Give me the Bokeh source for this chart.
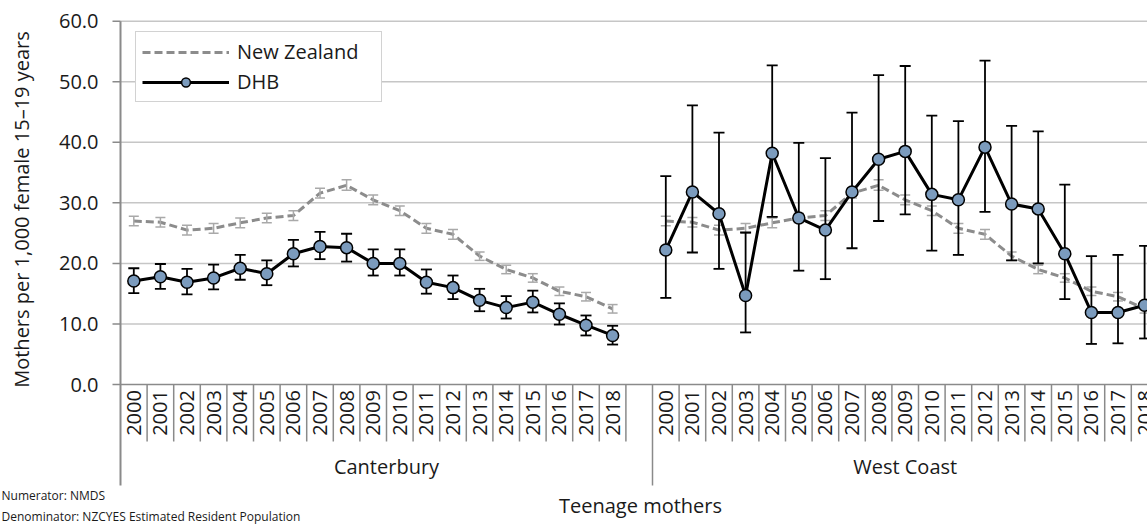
import math
from bokeh.plotting import figure
from bokeh.models import ColumnDataSource, Legend, LegendItem
from bokeh.core.properties import value
from bokeh.embed import file_html
from bokeh.resources import INLINE

# ---------------- data ----------------
GROUPS = ["Canterbury", "West Coast"]
GROUP_SLOTS = [20, 19]          # Canterbury has a trailing empty slot
YEARS = ["2000", "2001", "2002", "2003", "2004", "2005", "2006", "2007", "2008", "2009",
         "2010", "2011", "2012", "2013", "2014", "2015", "2016", "2017", "2018"]

NZ_RATE = [27.0, 26.8, 25.5, 25.8, 26.7, 27.5, 27.9, 31.6, 32.9, 30.5,
           28.7, 25.8, 24.8, 21.2, 19.0, 17.6, 15.4, 14.5, 12.5]
NZ_LOWER = [26.2, 26.0, 24.7, 25.0, 25.9, 26.7, 27.1, 30.8, 32.1, 29.7,
            27.9, 25.0, 24.0, 20.5, 18.3, 16.9, 14.7, 13.8, 11.8]
NZ_UPPER = [27.8, 27.6, 26.3, 26.6, 27.5, 28.3, 28.7, 32.4, 33.8, 31.3,
            29.5, 26.6, 25.6, 21.9, 19.7, 18.3, 16.1, 15.2, 13.2]

CANT_RATE = [17.1, 17.8, 16.9, 17.6, 19.2, 18.3, 21.6, 22.8, 22.6, 20.0,
             20.0, 16.9, 16.0, 13.9, 12.7, 13.6, 11.6, 9.8, 8.1]
CANT_LOWER = [15.1, 15.8, 14.9, 15.7, 17.3, 16.4, 19.5, 20.7, 20.3, 18.0,
              18.0, 15.0, 14.1, 12.1, 10.9, 11.9, 9.9, 8.1, 6.6]
CANT_UPPER = [19.2, 19.9, 19.1, 19.8, 21.4, 20.5, 23.9, 25.2, 24.9, 22.3,
              22.3, 19.0, 18.0, 15.8, 14.6, 15.5, 13.4, 11.4, 9.7]

WC_RATE = [22.2, 31.8, 28.2, 14.7, 38.2, 27.5, 25.5, 31.8, 37.2, 38.5,
           31.4, 30.5, 39.2, 29.8, 29.0, 21.6, 11.9, 11.9, 13.1]
WC_LOWER = [14.3, 21.8, 19.1, 8.6, 27.7, 18.8, 17.4, 22.5, 27.0, 28.1,
            22.1, 21.4, 28.5, 20.5, 20.0, 14.1, 6.7, 6.8, 7.6]
WC_UPPER = [34.4, 46.1, 41.6, 25.1, 52.7, 39.9, 37.4, 44.9, 51.1, 52.6,
            44.4, 43.5, 53.5, 42.7, 41.8, 33.0, 21.2, 21.4, 22.9]

Y_TICKS = [0, 10, 20, 30, 40, 50, 60]
Y_TICK_LABELS = ["0.0", "10.0", "20.0", "30.0", "40.0", "50.0", "60.0"]
Y_LABEL = "Mothers per 1,000 female 15\u201319 years"
X_TITLE = "Teenage mothers"
NOTES = ["Numerator: NMDS", "Denominator: NZCYES Estimated Resident Population"]
LEGEND_LABELS = ["New Zealand", "DHB"]

# ---------------- layout / styles ----------------
FONT = value("Open Sans")
TXT = "#1a1a1a"
GRID = "#c6c6c6"
AXIS = "#8a8a8a"
NZ_COLOR = "#8c8c8c"
NZ_ERR = "#a9a9a9"
DHB_FILL = "#7b9bbd"

W, H = 1147, 530
SLOT_PX = 26.6              # pixel width of one category slot
UNIT_PX = 6.055             # pixels per rate unit
PLOT_LEFT = 120             # px where category slot 0 starts
ZERO_Y = 384                # px of rate 0


def dx(px):                 # px (x) -> data x
    return (px - PLOT_LEFT) / SLOT_PX


def dy(py):                 # px (y) -> data y
    return (ZERO_Y - py) / UNIT_PX


p = figure(width=W, height=H, x_range=(dx(0), dx(W)), y_range=(dy(H), dy(0)),
           output_backend="svg", toolbar_location=None,
           min_border_left=0, min_border_right=0, min_border_top=0, min_border_bottom=0)
p.outline_line_color = None
p.axis.visible = False
p.grid.visible = False

Y_MAX = Y_TICKS[-1]
X_END = dx(W)
SEP_SHORT = dy(441)
SEP_LONG = dy(485)

# gridlines and value axis
p.segment(x0=[0] * (len(Y_TICKS) - 1), y0=Y_TICKS[1:], x1=[X_END] * (len(Y_TICKS) - 1),
          y1=Y_TICKS[1:], line_color=GRID, line_width=1.5)
p.segment(x0=[0], y0=[0], x1=[X_END], y1=[0], line_color=AXIS, line_width=1.5)
p.segment(x0=[0], y0=[Y_MAX], x1=[0], y1=[SEP_LONG], line_color=AXIS, line_width=2)
p.segment(x0=[dx(PLOT_LEFT - 8)] * len(Y_TICKS), y0=Y_TICKS, x1=[0] * len(Y_TICKS), y1=Y_TICKS,
          line_color=AXIS, line_width=1.5)
p.text(x=[dx(98)] * len(Y_TICKS), y=Y_TICKS, text=Y_TICK_LABELS, text_align="right",
       text_baseline="middle", text_font=FONT, text_font_size="20px", text_color=TXT)
p.text(x=[dx(21)], y=[dy(209)], text=[Y_LABEL], angle=math.pi / 2, text_align="center",
       text_baseline="middle", text_font=FONT, text_font_size="20px", text_color=TXT)

# category axis
offsets = []
off = 0
for n in GROUP_SLOTS:
    offsets.append(off)
    off += n

lab_x, lab_t = [], []
sep_x, sep_y1 = [], []
for g, o in enumerate(offsets):
    for i, yr in enumerate(YEARS):
        lab_x.append(o + i + 0.5)
        lab_t.append(yr)
        if o + i + 1 < o + GROUP_SLOTS[g]:
            sep_x.append(o + i + 1)
            sep_y1.append(SEP_SHORT)
    sep_x.append(o + GROUP_SLOTS[g])
    sep_y1.append(SEP_LONG)

p.segment(x0=sep_x, y0=[0] * len(sep_x), x1=sep_x, y1=sep_y1, line_color=AXIS, line_width=1.5)
p.text(x=lab_x, y=[SEP_SHORT / 2] * len(lab_x), text=lab_t, angle=math.pi / 2,
       text_align="center", text_baseline="middle", text_font=FONT,
       text_font_size="20px", text_color=TXT)
p.text(x=[o + n / 2 for o, n in zip(offsets, GROUP_SLOTS)], y=[dy(466)] * len(GROUPS),
       text=GROUPS, text_align="center", text_baseline="middle", text_font=FONT,
       text_font_size="20px", text_color=TXT)
p.text(x=[dx(640)], y=[dy(505)], text=[X_TITLE], text_align="center", text_baseline="middle",
       text_font=FONT, text_font_size="20px", text_color=TXT)
p.text(x=[dx(1), dx(1)], y=[dy(495), dy(516)], text=NOTES, text_align="left",
       text_baseline="middle", text_font=FONT, text_font_size="12px", text_color=TXT)

# ---------------- series ----------------
series = [
    (CANT_RATE, CANT_LOWER, CANT_UPPER),
    (WC_RATE, WC_LOWER, WC_UPPER),
]

nz_sources, dhb_sources = [], []
for g, o in enumerate(offsets):
    xs = [o + i + 0.5 for i in range(len(YEARS))]
    nz_sources.append(ColumnDataSource(dict(x=xs, y=NZ_RATE, lo=NZ_LOWER, hi=NZ_UPPER)))
    r, lo, hi = series[g]
    dhb_sources.append(ColumnDataSource(dict(x=xs, y=r, lo=lo, hi=hi)))

nz_lines = []
for src in nz_sources:
    nz_lines.append(p.line("x", "y", source=src, line_color=NZ_COLOR, line_width=3,
                           line_dash="8 4"))
for src in nz_sources:
    p.segment(x0="x", y0="lo", x1="x", y1="hi", source=src, line_color=NZ_ERR, line_width=1.5)
    p.scatter("x", "lo", source=src, marker="dash", size=10, line_color=NZ_ERR, line_width=1.5)
    p.scatter("x", "hi", source=src, marker="dash", size=10, line_color=NZ_ERR, line_width=1.5)
for src in dhb_sources:
    p.segment(x0="x", y0="lo", x1="x", y1="hi", source=src, line_color="black", line_width=1.8)
    p.scatter("x", "lo", source=src, marker="dash", size=11, line_color="black", line_width=1.8)
    p.scatter("x", "hi", source=src, marker="dash", size=11, line_color="black", line_width=1.8)
dhb_lines, dhb_marks = [], []
for src in dhb_sources:
    dhb_lines.append(p.line("x", "y", source=src, line_color="black", line_width=3))
for src in dhb_sources:
    dhb_marks.append(p.scatter("x", "y", source=src, marker="circle", size=12,
                               fill_color=DHB_FILL, line_color="black", line_width=1.5))

LEG_H = 69
legend = Legend(items=[LegendItem(label=LEGEND_LABELS[0], renderers=[nz_lines[0]]),
                       LegendItem(label=LEGEND_LABELS[1], renderers=[dhb_lines[0], dhb_marks[0]])],
                location=(135, H - 33 - LEG_H), margin=0, padding=6, spacing=3,
                glyph_width=87, glyph_height=22, label_standoff=8, label_width=138,
                label_text_font="Open Sans", label_text_font_size="20px", label_text_color=TXT,
                border_line_color="#a6a6a6", border_line_width=1.5,
                background_fill_color="white", background_fill_alpha=1)
p.add_layout(legend)

open("out.html", "w").write(file_html(p, INLINE))
